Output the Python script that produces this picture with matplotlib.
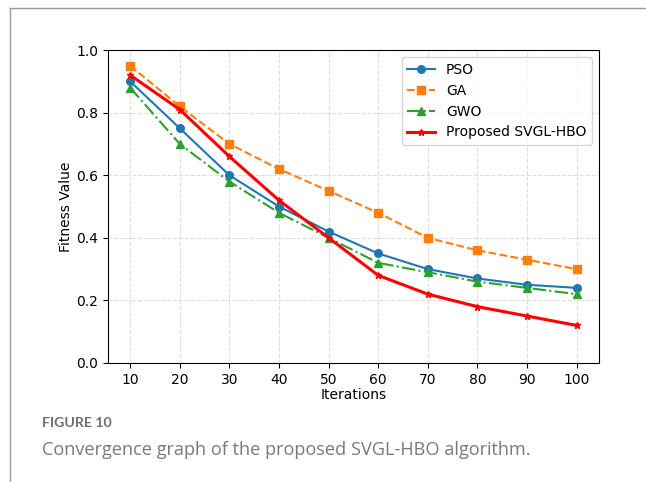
import matplotlib
matplotlib.use("Agg")
import matplotlib.pyplot as plt
from matplotlib.lines import Line2D

iterations = [10, 20, 30, 40, 50, 60, 70, 80, 90, 100]
pso = [0.90, 0.75, 0.60, 0.50, 0.42, 0.35, 0.30, 0.27, 0.25, 0.24]
ga = [0.95, 0.82, 0.70, 0.62, 0.55, 0.48, 0.40, 0.36, 0.33, 0.30]
gwo = [0.88, 0.70, 0.58, 0.48, 0.40, 0.32, 0.29, 0.26, 0.24, 0.22]
svgl_hbo = [0.92, 0.81, 0.66, 0.52, 0.40, 0.28, 0.22, 0.18, 0.15, 0.12]

fig = plt.figure(figsize=(6.46, 4.82), dpi=100)
ax = fig.add_axes([0.167, 0.247, 0.760, 0.649])

ax.plot(iterations, pso, color="#1f77b4", marker="o", markersize=5.5, linestyle="-", linewidth=1.5, label="PSO")
ax.plot(iterations, ga, color="#ff7f0e", marker="s", markersize=5.5, linestyle="--", linewidth=1.5, label="GA")
ax.plot(iterations, gwo, color="#2ca02c", marker="^", markersize=5.5, linestyle="-.", linewidth=1.5, label="GWO")
ax.plot(iterations, svgl_hbo, color="red", marker="*", markersize=5, linestyle="-", linewidth=2.2,
        label="Proposed SVGL-HBO")

ax.set_ylim(0, 1.0)
ax.set_xticks(iterations)
ax.set_xlabel("Iterations", labelpad=1)
ax.set_ylabel("Fitness Value", labelpad=2)
ax.grid(True, linestyle="--", color="#d0d0d0", alpha=0.7, linewidth=0.8)
ax.legend(loc="upper right", fontsize=10)

# Page frame and caption
fig.add_artist(Line2D([10 / 646, 1.0], [1 - 8 / 482, 1 - 8 / 482], transform=fig.transFigure,
                      color="#9a9a9a", linewidth=1.0))
fig.add_artist(Line2D([10 / 646, 10 / 646], [0.0, 1 - 8 / 482], transform=fig.transFigure,
                      color="#9a9a9a", linewidth=1.0))
fig.text(42 / 646, 1 - 427 / 482, "FIGURE 10", fontsize=10.2, fontweight="bold",
         color="#6e6e6e", family="Lato", va="baseline", ha="left")
fig.text(42 / 646, 1 - 455 / 482, "Convergence graph of the proposed SVGL-HBO algorithm.",
         fontsize=13.1, color="#7a7a7a", family="Open Sans", va="baseline", ha="left")

fig.savefig("out.png", dpi=100)
